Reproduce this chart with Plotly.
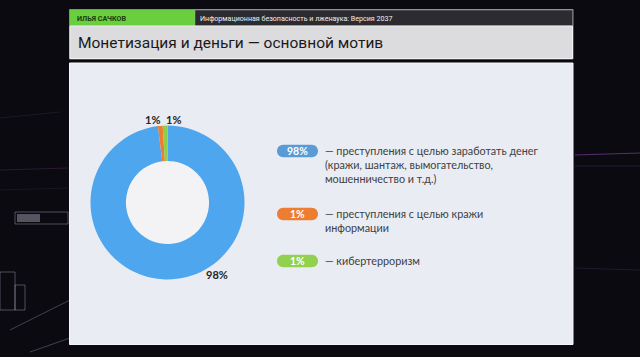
import plotly.graph_objects as go

# ---- data ----
categories = ["преступления с целью заработать денег", "преступления с целью кражи информации", "кибертерроризм"]
values = [98, 1, 1]
legend_lines = [
    ["— преступления с целью заработать денег", "(кражи, шантаж, вымогательство,", "мошенничество и т.д.)"],
    ["— преступления с целью кражи", "информации"],
    ["— кибертерроризм"],
]
slice_colors = ["#4ea6ef", "#ed7d31", "#8dcf4a"]
pill_colors = ["#5b9bd5", "#ed7d31", "#92d050"]
title_text = "Монетизация и деньги — основной мотив"
author_text = "ИЛЬЯ САЧКОВ"
course_text = "Информационная безопасность и лженаука: Версия 2037"

W, H = 640, 357

fig = go.Figure()

# donut
cx, cy, R = 167.5, 202.5, 77
fig.add_trace(go.Pie(
    labels=categories, values=values, sort=False, direction="clockwise", rotation=0,
    hole=0.54, textinfo="none", hoverinfo="label+percent", showlegend=False,
    marker=dict(colors=slice_colors, line=dict(width=0)),
    domain=dict(x=[(cx - R) / W, (cx + R) / W], y=[1 - (cy + R) / H, 1 - (cy - R) / H]),
))

# pixel-based invisible axes for decorations
fig.update_xaxes(range=[0, W], visible=False, fixedrange=True)
fig.update_yaxes(range=[H, 0], visible=False, fixedrange=True)
fig.add_trace(go.Scatter(x=[0, W], y=[0, H], mode="markers", marker=dict(opacity=0), hoverinfo="skip", showlegend=False))

shapes = []
# faint background texture
streaks = [
    (0, 118, 60, 112, "rgba(120,80,140,0.18)", 1),
    (0, 170, 68, 168, "rgba(140,90,170,0.22)", 1),
    (0, 190, 68, 188, "rgba(120,80,150,0.15)", 1),
    (575, 155, 640, 153, "rgba(170,90,220,0.45)", 1.2),
    (575, 166, 640, 166, "rgba(120,80,200,0.25)", 1),
    (575, 268, 640, 270, "rgba(110,90,160,0.2)", 1),
    (10, 330, 70, 300, "rgba(200,190,220,0.3)", 1),
    (30, 352, 70, 338, "rgba(200,190,220,0.3)", 1),
]
for x0, y0, x1, y1, c, w in streaks:
    shapes.append(dict(type="line", x0=x0, y0=y0, x1=x1, y1=y1, line=dict(color=c, width=w), layer="below"))
for x0, y0, x1, y1 in [(15, 212, 68, 224), (0, 272, 15, 310), (15, 285, 25, 310)]:
    shapes.append(dict(type="rect", x0=x0, y0=y0, x1=x1, y1=y1, fillcolor="rgba(0,0,0,0)",
                       line=dict(color="rgba(210,200,230,0.35)", width=1), layer="below"))
shapes.append(dict(type="rect", x0=17, y0=214, x1=40, y1=222, fillcolor="rgba(220,220,240,0.35)", line=dict(width=0), layer="below"))

# header
shapes.append(dict(type="rect", x0=69.5, y0=9.5, x1=573, y1=59, fillcolor="rgba(0,0,0,0)",
                   line=dict(color="#8a8a8e", width=1), layer="below"))
shapes.append(dict(type="rect", x0=70, y0=10, x1=195, y1=26, fillcolor="#69cf3f", line=dict(width=0), layer="below"))
shapes.append(dict(type="rect", x0=195, y0=10, x1=572.5, y1=26, fillcolor="#2b2b30", line=dict(color="#aaaaaa", width=0.5), layer="below"))
shapes.append(dict(type="rect", x0=70, y0=26, x1=572.5, y1=58.5, fillcolor="#dcdcde", line=dict(color="#f0f0f0", width=1), layer="below"))
# content panel
shapes.append(dict(type="rect", x0=69.5, y0=63, x1=573, y1=344.5, fillcolor="#e9ecf3", line=dict(color="#f5f6fa", width=1), layer="below"))
# donut hole fill
shapes.append(dict(type="circle", x0=cx - 41.5, y0=cy - 41.5, x1=cx + 41.5, y1=cy + 41.5,
                   fillcolor="#f3f3f5", line=dict(width=0), layer="below"))

# legend pills
pill_cy = [151, 214, 261]
px0, px1, ph = 277, 318, 12.5
def pill(x0, x1, yc, h):
    r = h / 2
    k = 0.5523 * r
    y0, y1 = yc - r, yc + r
    return (f"M {x0 + r},{y0} L {x1 - r},{y0} "
            f"C {x1 - r + k},{y0} {x1},{yc - k} {x1},{yc} "
            f"C {x1},{yc + k} {x1 - r + k},{y1} {x1 - r},{y1} "
            f"L {x0 + r},{y1} "
            f"C {x0 + r - k},{y1} {x0},{yc + k} {x0},{yc} "
            f"C {x0},{yc - k} {x0 + r - k},{y0} {x0 + r},{y0} Z")
for yc, c in zip(pill_cy, pill_colors):
    shapes.append(dict(type="path", path=pill(px0, px1, yc, ph), fillcolor=c, line=dict(width=0), layer="above"))

annotations = []
# header texts
annotations.append(dict(x=75, y=18, text=f"<b>{author_text}</b>", showarrow=False, xanchor="left", yanchor="middle",
                        font=dict(family="Roboto", size=7.2, color="#1e3a10")))
annotations.append(dict(x=198, y=18, text=course_text, showarrow=False, xanchor="left", yanchor="middle",
                        font=dict(family="Roboto", size=7.1, color="#f0f0f0")))
annotations.append(dict(x=76, y=42.5, text=title_text, showarrow=False, xanchor="left", yanchor="middle",
                        font=dict(family="Roboto", size=15.5, color="#1a1a1a")))

# slice labels
label_pos = [(217, 274), (152, 119), (173, 119)]
for (lx, ly), v in zip(label_pos, values):
    annotations.append(dict(x=lx, y=ly, text=f"{v}%", showarrow=False, xanchor="center", yanchor="middle",
                            font=dict(family="Lato", size=11, color="#262626", weight="bold")))

# legend texts
line_h = 14
for yc, v, lines in zip(pill_cy, values, legend_lines):
    annotations.append(dict(x=(px0 + px1) / 2, y=yc, text=f"<b>{v}%</b>", showarrow=False,
                            xanchor="center", yanchor="middle", font=dict(family="Lato", size=10.5, color="white")))
    for i, t in enumerate(lines):
        annotations.append(dict(x=323, y=yc - 1 + i * line_h, text=t, showarrow=False, xanchor="left", yanchor="middle",
                                font=dict(family="Lato", size=10.8, color="#404040")))

for a in annotations:
    a["xref"] = "x"
    a["yref"] = "y"
for s in shapes:
    s["xref"] = "x"
    s["yref"] = "y"

fig.update_layout(
    width=W, height=H, margin=dict(l=0, r=0, t=0, b=0),
    paper_bgcolor="#0c0a11", plot_bgcolor="rgba(0,0,0,0)",
    shapes=shapes, annotations=annotations, showlegend=False,
)

fig.write_html("out.html")
